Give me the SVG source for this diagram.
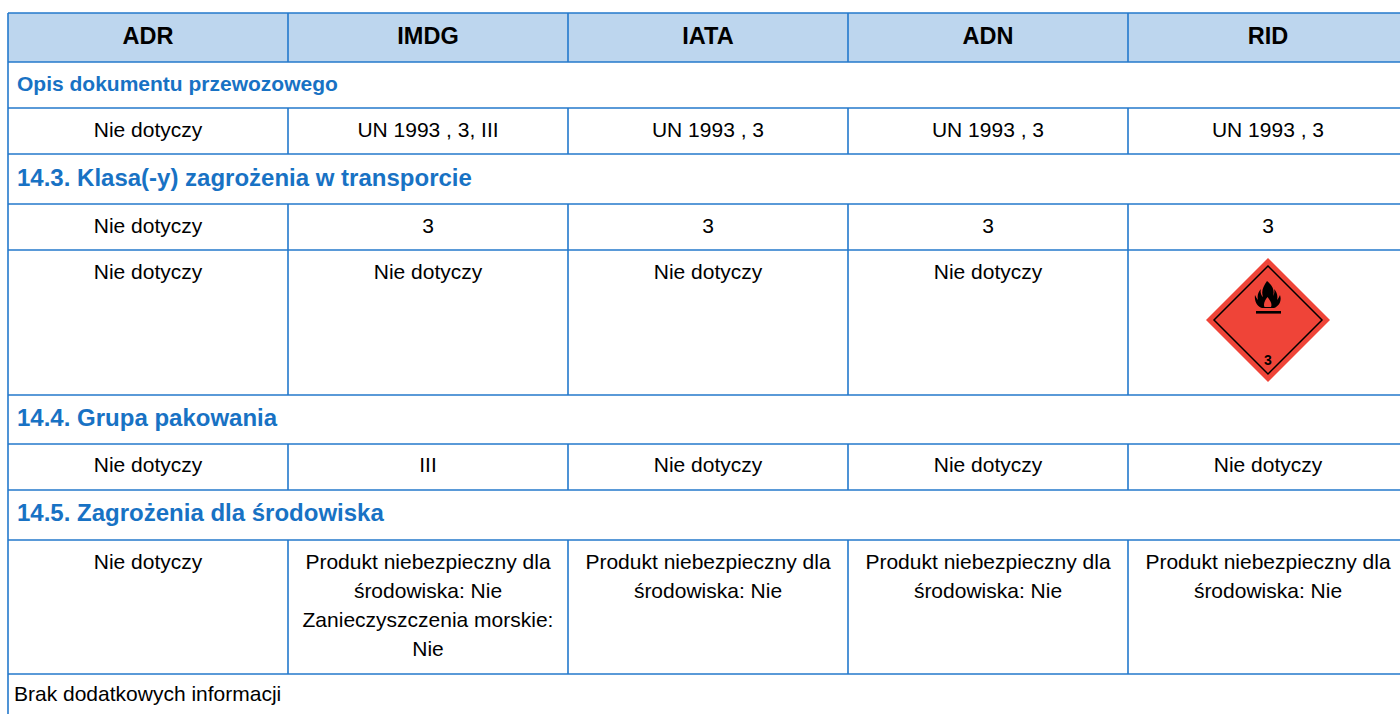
<svg xmlns="http://www.w3.org/2000/svg" width="1400" height="714" viewBox="0 0 1400 714">
<style>
.ln{stroke:#2479cc;stroke-width:1.6;fill:none}
.hd{font-family:"Liberation Sans",Arial,sans-serif;font-weight:bold;font-size:23.5px;fill:#000;text-anchor:middle}
.sec{font-family:"Liberation Sans",Arial,sans-serif;font-weight:bold;font-size:24px;fill:#1872c4}
.sec2{font-family:"Liberation Sans",Arial,sans-serif;font-weight:bold;font-size:21px;fill:#1872c4}
.c{font-family:"Liberation Sans",Arial,sans-serif;font-size:21px;fill:#000;text-anchor:middle}
.l{font-family:"Liberation Sans",Arial,sans-serif;font-size:21px;fill:#000}
</style>
<rect x="0" y="0" width="1400" height="714" fill="#fff"/>
<rect x="8" y="13" width="1400" height="49" fill="#bdd6ee"/>
<g id="connectors">
<path class="ln" d="M8,13H1400M8,62H1400M8,108H1400M8,154H1400M8,204H1400M8,250H1400M8,395H1400M8,444H1400M8,490H1400M8,540H1400M8,674H1400"/>
<path class="ln" d="M8,13V714"/>
<path class="ln" d="M288,13V62M568,13V62M848,13V62M1128,13V62"/>
<path class="ln" d="M288,108V154M568,108V154M848,108V154M1128,108V154"/>
<path class="ln" d="M288,204V395M568,204V395M848,204V395M1128,204V395"/>
<path class="ln" d="M288,444V490M568,444V490M848,444V490M1128,444V490"/>
<path class="ln" d="M288,540V674M568,540V674M848,540V674M1128,540V674"/>
</g>
<g id="header">
<text class="hd" x="148" y="44">ADR</text>
<text class="hd" x="428" y="44">IMDG</text>
<text class="hd" x="708" y="44">IATA</text>
<text class="hd" x="988" y="44">ADN</text>
<text class="hd" x="1268" y="44">RID</text>
</g>
<g id="sec-opis"><text class="sec2" x="17" y="91">Opis dokumentu przewozowego</text></g>
<g id="row-opis">
<text class="c" x="148" y="137">Nie dotyczy</text>
<text class="c" x="428" y="137">UN 1993 , 3, III</text>
<text class="c" x="708" y="137">UN 1993 , 3</text>
<text class="c" x="988" y="137">UN 1993 , 3</text>
<text class="c" x="1268" y="137">UN 1993 , 3</text>
</g>
<g id="sec-143"><text class="sec" x="17" y="186">14.3. Klasa(-y) zagrożenia w transporcie</text></g>
<g id="row-klasa">
<text class="c" x="148" y="233">Nie dotyczy</text>
<text class="c" x="428" y="233">3</text>
<text class="c" x="708" y="233">3</text>
<text class="c" x="988" y="233">3</text>
<text class="c" x="1268" y="233">3</text>
</g>
<g id="row-label">
<text class="c" x="148" y="279">Nie dotyczy</text>
<text class="c" x="428" y="279">Nie dotyczy</text>
<text class="c" x="708" y="279">Nie dotyczy</text>
<text class="c" x="988" y="279">Nie dotyczy</text>
<g id="hazard-label">
<polygon points="1268,258 1330,320 1268,382 1206,320" fill="#ef4438"/>
<polygon points="1268,266 1322,320 1268,374 1214,320" fill="none" stroke="#000" stroke-width="1.5"/>
<path fill="#000" d="M1267,281 C1263,287 1261,291 1263,297 C1261,295 1260,292 1261,289 C1258,292 1257,296 1258,300 C1257,299 1256,297 1255,295 C1254,302 1258,307 1262,308 L1274,308 C1279,306 1282,301 1280,295 C1279,297 1278,299 1277,300 C1278,296 1277,292 1274,289 C1275,292 1274,294 1273,296 C1275,290 1272,285 1267,281 Z"/>
<path fill="#ef4438" d="M1267.5,297 C1265,300 1263,304 1264.5,307 L1271,307 C1272.5,304 1270,300 1267.5,297 Z"/>
<rect x="1256" y="311" width="25" height="2.6" fill="#000"/>
<text x="1268" y="365" font-family="Liberation Sans, Arial, sans-serif" font-weight="bold" font-size="14" text-anchor="middle" fill="#000">3</text>
</g>
</g>
<g id="sec-144"><text class="sec" x="17" y="426">14.4. Grupa pakowania</text></g>
<g id="row-grupa">
<text class="c" x="148" y="472">Nie dotyczy</text>
<text class="c" x="428" y="472">III</text>
<text class="c" x="708" y="472">Nie dotyczy</text>
<text class="c" x="988" y="472">Nie dotyczy</text>
<text class="c" x="1268" y="472">Nie dotyczy</text>
</g>
<g id="sec-145"><text class="sec" x="17" y="521">14.5. Zagrożenia dla środowiska</text></g>
<g id="row-srodowisko">
<text class="c" x="148" y="569">Nie dotyczy</text>
<text class="c" x="428" y="569">Produkt niebezpieczny dla<tspan x="428" dy="29">środowiska: Nie</tspan><tspan x="428" dy="29">Zanieczyszczenia morskie:</tspan><tspan x="428" dy="29">Nie</tspan></text>
<text class="c" x="708" y="569">Produkt niebezpieczny dla<tspan x="708" dy="29">środowiska: Nie</tspan></text>
<text class="c" x="988" y="569">Produkt niebezpieczny dla<tspan x="988" dy="29">środowiska: Nie</tspan></text>
<text class="c" x="1268" y="569">Produkt niebezpieczny dla<tspan x="1268" dy="29">środowiska: Nie</tspan></text>
</g>
<g id="row-info"><text class="l" x="14" y="701">Brak dodatkowych informacji</text></g>
</svg>
